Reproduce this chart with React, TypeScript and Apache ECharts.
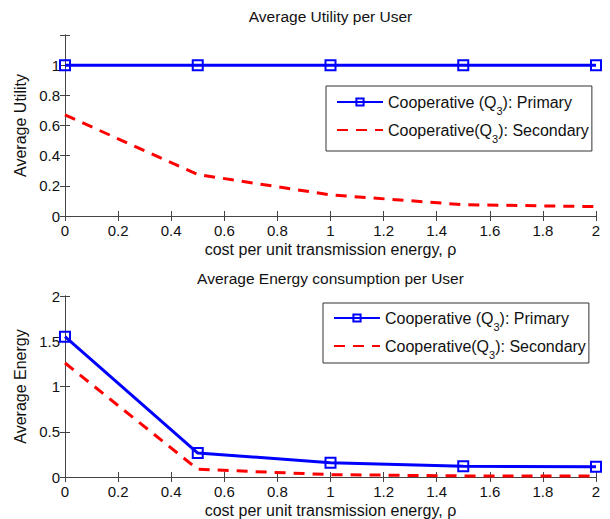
import React, { useEffect, useRef } from "react";
import * as echarts from "echarts";

const xValues = [0, 0.5, 1, 1.5, 2];
const utilPrimary = [1, 1, 1, 1, 1];
const utilSecondary = [0.67, 0.275, 0.14, 0.075, 0.062];
const energyPrimary = [1.55, 0.265, 0.158, 0.118, 0.112];
const energySecondary = [1.26, 0.085, 0.026, 0.012, 0.01];

const namePrimary = "Cooperative (Q3): Primary";
const nameSecondary = "Cooperative(Q3): Secondary";
const titleTop = "Average Utility per User";
const titleBottom = "Average Energy consumption per User";
const xName = "cost per unit transmission energy, \u03c1";
const yNameTop = "Average Utility";
const yNameBottom = "Average Energy";

const FONT = "'Liberation Sans', Arial, Helvetica, sans-serif";
const AXIS_COLOR = "#444";
const TEXT_COLOR = "#111";
const BLUE = "#0000ff";
const RED = "#ff0000";

const pairs = (ys: number[]) => xValues.map((x, i) => [x, ys[i]]);

function fmt(v: number) {
  return String(Math.round(v * 100) / 100);
}

export default function App() {
  const ref = useRef<HTMLDivElement>(null);
  useEffect(() => {
    if (!ref.current) return;
    const chart = echarts.init(ref.current, undefined, { renderer: "svg" });

    const tick = { show: true, inside: true, length: 5, lineStyle: { color: AXIS_COLOR } };
    const line = { show: true, lineStyle: { color: AXIS_COLOR, width: 1 } };
    const label = { color: TEXT_COLOR, fontSize: 15, fontFamily: FONT };

    const xMain = (grid: number) => ({
      type: "value",
      gridIndex: grid,
      position: "bottom",
      min: 0,
      max: 2,
      interval: 0.2,
      axisLine: line,
      axisTick: tick,
      splitLine: { show: false },
      axisLabel: { ...label, margin: 7, formatter: fmt },
      name: xName,
      nameLocation: "middle",
      nameGap: 25,
      nameTextStyle: { color: TEXT_COLOR, fontSize: 16, fontFamily: FONT },
    });
    const xTop = (grid: number, title: string, gap: number) => ({
      type: "value",
      gridIndex: grid,
      position: "top",
      min: 0,
      max: 2,
      interval: 0.2,
      axisLine: line,
      axisTick: tick,
      splitLine: { show: false },
      axisLabel: { show: false },
      name: title,
      nameLocation: "middle",
      nameGap: gap,
      nameTextStyle: { color: TEXT_COLOR, fontSize: 15.5, fontFamily: FONT },
    });
    const yMain = (grid: number, max: number, interval: number, name: string, hideTop: boolean) => ({
      type: "value",
      gridIndex: grid,
      position: "left",
      min: 0,
      max,
      interval,
      axisLine: line,
      axisTick: tick,
      splitLine: { show: false },
      axisLabel: {
        ...label,
        margin: 5,
        formatter: (v: number) => (hideTop && Math.abs(v - max) < 1e-6 ? "" : fmt(v)),
      },
      name,
      nameLocation: "middle",
      nameGap: 34,
      nameTextStyle: { color: TEXT_COLOR, fontSize: 16, fontFamily: FONT },
    });
    const yRight = (grid: number, max: number, interval: number) => ({
      type: "value",
      gridIndex: grid,
      position: "right",
      min: 0,
      max,
      interval,
      axisLine: line,
      axisTick: tick,
      splitLine: { show: false },
      axisLabel: { show: false },
    });

    const primarySeries = (xi: number, yi: number, data: number[]) => ({
      type: "line",
      name: namePrimary,
      xAxisIndex: xi,
      yAxisIndex: yi,
      data: pairs(data),
      symbol: "rect",
      symbolSize: 10,
      lineStyle: { color: BLUE, width: 3 },
      itemStyle: { color: "rgba(255,255,255,0)", borderColor: BLUE, borderWidth: 2 },
      color: BLUE,
      clip: false,
      z: 3,
    });
    const secondarySeries = (xi: number, yi: number, data: number[]) => ({
      type: "line",
      name: nameSecondary,
      xAxisIndex: xi,
      yAxisIndex: yi,
      data: pairs(data),
      symbol: "none",
      lineStyle: { color: RED, width: 3, type: [11, 8] },
      itemStyle: { color: "rgba(0,0,0,0)", borderWidth: 0, opacity: 0 },
      color: RED,
      z: 2,
    });

    const legend = (left: number, top: number, padding: number[]) => ({
      orient: "vertical",
      left,
      top,
      padding,
      itemWidth: 46,
      itemHeight: 9,
      itemGap: 0,
      backgroundColor: "#fff",
      borderColor: "#333",
      borderWidth: 1,
      borderRadius: 0,
      selectedMode: false,
      data: [
        { name: namePrimary },
        { name: nameSecondary, itemStyle: { color: "rgba(0,0,0,0)", borderWidth: 0, opacity: 0 } },
      ],
      formatter: (n: string) => n.replace("Q3", "Q{s|3}"),
      textStyle: {
        color: TEXT_COLOR,
        fontSize: 16,
        fontFamily: FONT,
        lineHeight: 28,
        rich: {
          s: { fontSize: 11, lineHeight: 11, verticalAlign: "bottom", fontFamily: FONT, color: TEXT_COLOR },
        },
      },
    });

    chart.setOption({
      animation: false,
      backgroundColor: "#fff",
      grid: [
        { left: 65, right: 14, top: 35, height: 181, show: false },
        { left: 65, right: 14, top: 296, height: 181.5, show: false },
      ],
      xAxis: [xMain(0), xTop(0, titleTop, 11), xMain(1), xTop(1, titleBottom, 10)],
      yAxis: [
        yMain(0, 1.2, 0.2, yNameTop, true),
        yRight(0, 1.2, 0.2),
        yMain(1, 2, 0.5, yNameBottom, false),
        yRight(1, 2, 0.5),
      ],
      legend: [legend(326, 86, [2, 3, 7, 10]), legend(323, 303, [1, 3, 3, 10])],
      series: [
        primarySeries(0, 0, utilPrimary),
        secondarySeries(0, 0, utilSecondary),
        primarySeries(2, 2, energyPrimary),
        secondarySeries(2, 2, energySecondary),
      ],
    });
    return () => chart.dispose();
  }, []);
  return <div ref={ref} style={{ width: 610, height: 519, position: "absolute", left: 0, top: 0 }} />;
}
